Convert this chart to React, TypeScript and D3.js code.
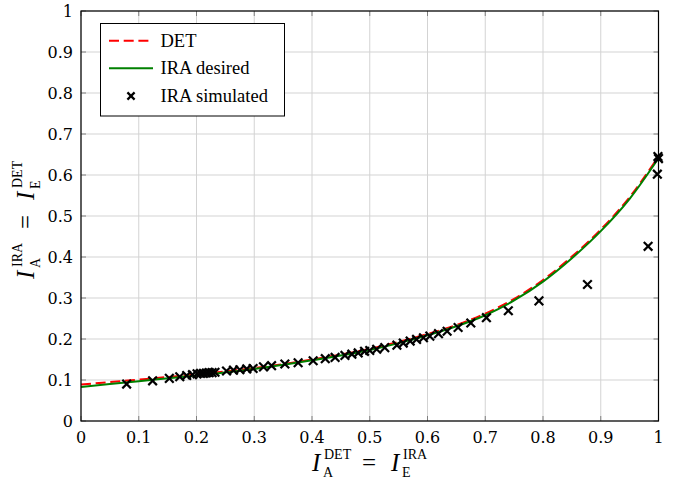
import React from 'react';
import * as d3 from 'd3';

const W = 685;
const H = 479;
const plot = { left: 81, top: 11, right: 658.5, bottom: 421 };

const tickValues = [0, 0.1, 0.2, 0.3, 0.4, 0.5, 0.6, 0.7, 0.8, 0.9, 1];
const tickLabels = ['0', '0.1', '0.2', '0.3', '0.4', '0.5', '0.6', '0.7', '0.8', '0.9', '1'];

// curves
const curveX = [0, 0.1, 0.2, 0.3, 0.4, 0.5, 0.55, 0.6, 0.65, 0.7, 0.75, 0.8, 0.85, 0.9, 0.95, 1.0];
const detY = [0.089, 0.101, 0.114, 0.129, 0.15, 0.176, 0.193, 0.212, 0.234, 0.262, 0.298, 0.344, 0.401, 0.467, 0.546, 0.645];
const iraDesiredY = [0.083, 0.097, 0.111, 0.127, 0.148, 0.173, 0.19, 0.209, 0.231, 0.258, 0.294, 0.34, 0.397, 0.463, 0.542, 0.641];

// simulated points
const simX = [
  0.079, 0.124, 0.153, 0.171, 0.183, 0.193, 0.201, 0.207, 0.212, 0.217, 0.222, 0.227, 0.232,
  0.252, 0.264, 0.275, 0.287, 0.298, 0.316, 0.33, 0.353, 0.376, 0.402, 0.423, 0.44, 0.457,
  0.469, 0.48, 0.491, 0.5, 0.512, 0.526, 0.547, 0.558, 0.57, 0.581, 0.593, 0.604, 0.619,
  0.634, 0.653, 0.675, 0.702, 0.74, 0.793, 0.877, 0.982, 0.998, 1.0, 0.999,
];
const simY = [
  0.09, 0.098, 0.104, 0.108, 0.111, 0.113, 0.115, 0.116, 0.116, 0.117, 0.118, 0.118, 0.119,
  0.122, 0.124, 0.125, 0.127, 0.128, 0.132, 0.135, 0.139, 0.142, 0.147, 0.152, 0.155, 0.16,
  0.163, 0.166, 0.17, 0.172, 0.175, 0.179, 0.185, 0.19, 0.195, 0.199, 0.203, 0.207, 0.213,
  0.219, 0.228, 0.239, 0.252, 0.269, 0.293, 0.333, 0.426, 0.602, 0.64, 0.645,
];

const legendItems = ['DET', 'IRA desired', 'IRA simulated'];

const times = 'Liberation Serif';
const cm = 'DejaVu Serif';

function Cross({ cx, cy, r = 4.3 }: { cx: number; cy: number; r?: number }) {
  return (
    <g stroke="#000" strokeWidth={2.2}>
      <line x1={cx - r} y1={cy - r} x2={cx + r} y2={cy + r} />
      <line x1={cx - r} y1={cy + r} x2={cx + r} y2={cy - r} />
    </g>
  );
}

function MathLabel({ sup1, sub1, sup2, sub2, transform }: any) {
  return (
    <g transform={transform} fontFamily={times} fill="#000">
      <text x={0} y={0} fontStyle="italic" fontSize={25}>I</text>
      <text x={12} y={-12} fontSize={14}>{sup1}</text>
      <text x={11} y={6} fontSize={14}>{sub1}</text>
      <text x={50} y={0} fontSize={25}>=</text>
      <text x={79} y={0} fontStyle="italic" fontSize={25}>I</text>
      <text x={91} y={-12} fontSize={14}>{sup2}</text>
      <text x={90} y={6} fontSize={14}>{sub2}</text>
    </g>
  );
}

export default function App() {
  const x = d3.scaleLinear().domain([0, 1]).range([plot.left, plot.right]);
  const y = d3.scaleLinear().domain([0, 1]).range([plot.bottom, plot.top]);

  const line = d3
    .line<number>()
    .x((_, i) => x(curveX[i]))
    .y((d) => y(d))
    .curve(d3.curveMonotoneX);

  const detPath = line(detY) || '';
  const iraPath = line(iraDesiredY) || '';

  const legendRows = [40.7, 68.3, 96];

  return (
    <svg width={W} height={H} style={{ position: 'absolute', left: 0, top: 0, background: '#fff' }}>
      <rect x={0} y={0} width={W} height={H} fill="#fff" />

      {/* grid */}
      <g stroke="#d3d3d3" strokeWidth={1}>
        {tickValues.map((t) => (
          <line key={'gx' + t} x1={x(t)} x2={x(t)} y1={plot.top} y2={plot.bottom} />
        ))}
        {tickValues.map((t) => (
          <line key={'gy' + t} x1={plot.left} x2={plot.right} y1={y(t)} y2={y(t)} />
        ))}
      </g>

      {/* tick marks */}
      <g stroke="#808080" strokeWidth={1}>
        {tickValues.map((t) => (
          <g key={'t' + t}>
            <line x1={x(t)} x2={x(t)} y1={plot.bottom} y2={plot.bottom - 5} />
            <line x1={x(t)} x2={x(t)} y1={plot.top} y2={plot.top + 5} />
            <line x1={plot.left} x2={plot.left + 5} y1={y(t)} y2={y(t)} />
            <line x1={plot.right} x2={plot.right - 5} y1={y(t)} y2={y(t)} />
          </g>
        ))}
      </g>

      {/* curves */}
      <path d={detPath} fill="none" stroke="#ff0000" strokeWidth={2} strokeDasharray="10,4.7" />
      <path d={iraPath} fill="none" stroke="#008000" strokeWidth={2} />

      {/* simulated */}
      {simX.map((v, i) => (
        <Cross key={'s' + i} cx={x(v)} cy={y(simY[i])} />
      ))}

      {/* frame */}
      <rect
        x={plot.left}
        y={plot.top}
        width={plot.right - plot.left}
        height={plot.bottom - plot.top}
        fill="none"
        stroke="#000"
        strokeWidth={1.2}
      />

      {/* tick labels */}
      <g fontFamily={cm} fontSize={16} fill="#000">
        {tickValues.map((t, i) => (
          <text key={'xl' + t} x={x(t)} y={442.5} textAnchor="middle">
            {tickLabels[i]}
          </text>
        ))}
        {tickValues.map((t, i) => (
          <text key={'yl' + t} x={73} y={y(t) + 6} textAnchor="end">
            {tickLabels[i]}
          </text>
        ))}
      </g>

      {/* legend */}
      <rect x={100.5} y={23.5} width={184} height={92.5} fill="#fff" stroke="#000" strokeWidth={1} />
      <line x1={109} x2={153} y1={legendRows[0]} y2={legendRows[0]} stroke="#ff0000" strokeWidth={2} strokeDasharray="10,4.7" />
      <line x1={109} x2={153} y1={legendRows[1]} y2={legendRows[1]} stroke="#008000" strokeWidth={2} />
      <Cross cx={131} cy={legendRows[2]} r={3.6} />
      <g fontFamily={times} fontSize={18.5} fill="#000">
        {legendItems.map((s, i) => (
          <text key={s} x={160.5} y={legendRows[i] + 6}>
            {s}
          </text>
        ))}
      </g>

      {/* axis labels */}
      <MathLabel sup1="DET" sub1="A" sup2="IRA" sub2="E" transform="translate(312,471)" />
      <MathLabel sup1="IRA" sub1="A" sup2="DET" sub2="E" transform="translate(34,279) rotate(-90)" />
    </svg>
  );
}
